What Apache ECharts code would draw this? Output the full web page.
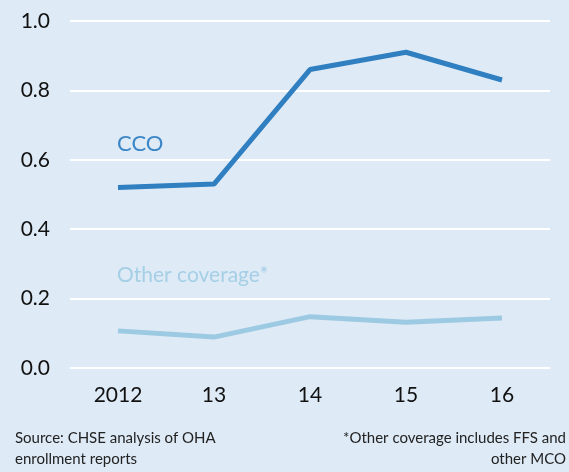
<!DOCTYPE html>
<html>
<head>
<meta charset="utf-8">
<script src="https://cdn.jsdelivr.net/npm/echarts@6/dist/echarts.min.js"></script>
<style>
  html, body { margin: 0; padding: 0; background: #deeaf6; }
  #main { width: 569px; height: 472px; }
</style>
</head>
<body>
<div id="main"></div>
<script>
  // data
  var years = ['2012', '13', '14', '15', '16'];
  var cco = [0.52, 0.53, 0.86, 0.91, 0.83];
  var other = [0.107, 0.089, 0.148, 0.132, 0.144];

  var chart = echarts.init(document.getElementById('main'));
  var font = 'Lato, "Open Sans", sans-serif';

  var option = {
    backgroundColor: '#deeaf6',
    animation: false,
    grid: { left: 70, right: 19, top: 21, bottom: 104 },
    xAxis: {
      type: 'category',
      data: years,
      boundaryGap: true,
      axisLine: { show: false },
      axisTick: { show: false },
      axisLabel: { color: '#111', fontSize: 21, fontFamily: font, margin: 17 }
    },
    yAxis: {
      type: 'value',
      min: 0,
      max: 1,
      interval: 0.2,
      axisLabel: {
        color: '#111', fontSize: 21, fontFamily: font, margin: 20,
        formatter: function (v) { return v.toFixed(1); }
      },
      splitLine: { lineStyle: { color: '#ffffff', width: 2 } }
    },
    series: [
      {
        name: 'CCO',
        type: 'line',
        data: cco,
        symbol: 'none',
        lineStyle: { color: '#2f7fc1', width: 5 }
      },
      {
        name: 'Other coverage*',
        type: 'line',
        data: other,
        symbol: 'none',
        lineStyle: { color: '#9ccae2', width: 5 }
      }
    ],
    graphic: [
      { type: 'text', left: 117, top: 133, style: { text: 'CCO', fill: '#3a86c6', font: '22px ' + font } },
      { type: 'text', left: 117, top: 265, style: { text: 'Other coverage*', fill: '#a5cfe5', font: '21px ' + font } },
      { type: 'text', left: 15, top: 431, style: { text: 'Source: CHSE analysis of OHA', fill: '#222', font: '15px ' + font } },
      { type: 'text', left: 15, top: 452, style: { text: 'enrollment reports', fill: '#222', font: '15px ' + font } },
      { type: 'text', right: 3, top: 431, style: { text: '*Other coverage includes FFS and', fill: '#222', font: '15px ' + font } },
      { type: 'text', right: 3, top: 452, style: { text: 'other MCO', fill: '#222', font: '15px ' + font } }
    ]
  };

  chart.setOption(option);
</script>
</body>
</html>
